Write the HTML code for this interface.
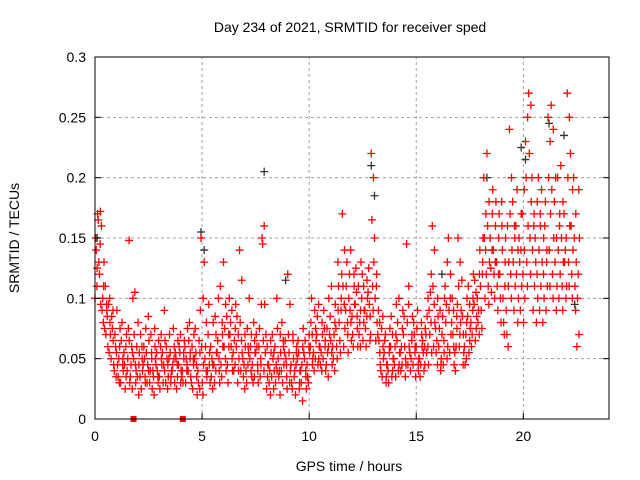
<!DOCTYPE html>
<html><head><meta charset="utf-8"><style>
body{margin:0;background:#fff;}
svg{display:block;font-family:"Liberation Sans",sans-serif;}
</style></head><body>
<svg id="chart" width="640" height="480">
<rect width="640" height="480" fill="#fff"/>
<text x="350" y="32" font-size="14" text-anchor="middle">Day 234 of 2021, SRMTID for receiver sped</text>
<g id="grid"></g><g id="marks"></g><g id="axes"></g>
<text x="349" y="471" font-size="14" text-anchor="middle">GPS time / hours</text>
<text transform="translate(19,238) rotate(-90)" font-size="14" text-anchor="middle">SRMTID / TECUs</text>
</svg>
<script>
const xTicks=[0,5,10,15,20];
const yTicks=[0,0.05,0.1,0.15,0.2,0.25,0.3];
const yTickLabels=["0","0.05","0.1","0.15","0.2","0.25","0.3"];
const times=[0,0.15,0.3,0.45,0.6,0.75,0.9,1.05,1.2,1.35,1.5,1.65,1.8,1.95,2.1,2.25,2.4,2.55,2.7,2.85,3.0,3.15,3.3,3.45,3.6,3.75,3.9,4.05,4.2,4.35,4.5,4.65,4.8,4.95,5.1,5.25,5.4,5.55,5.7,5.85,6.0,6.15,6.3,6.45,6.6,6.75,6.9,7.05,7.2,7.35,7.5,7.65,7.8,7.95,8.1,8.25,8.4,8.55,8.7,8.85,9.0,9.15,9.3,9.45,9.6,9.75,9.9,10.05,10.2,10.35,10.5,10.65,10.8,10.95,11.1,11.25,11.4,11.55,11.7,11.85,12.0,12.15,12.3,12.45,12.6,12.75,12.9,13.05,13.2,13.35,13.5,13.65,13.8,13.95,14.1,14.25,14.4,14.55,14.7,14.85,15.0,15.15,15.3,15.45,15.6,15.75,15.9,16.05,16.2,16.35,16.5,16.65,16.8,16.95,17.1,17.25,17.4,17.55,17.7,17.85,18.0,18.15,18.3,18.45,18.6,18.75,18.9,19.05,19.2,19.35,19.5,19.65,19.8,19.95,20.1,20.25,20.4,20.55,20.7,20.85,21.0,21.15,21.3,21.45,21.6,21.75,21.9,22.05,22.2,22.35,22.5];
// values in milli-TECU per time row
const redValues=[
[100,125,150,170,140,110],[165,172,130,95,120,145],[160,110,90,130,100,80],[75,90,110,85,70,95],[60,80,95,70,55,100],[50,65,85,45,75,90],[40,55,70,90,60,35],[45,60,35,75,50,30],[30,50,65,40,80,45],[55,35,45,70,25,60],
[40,65,50,30,75,148],[35,55,45,100,60,25],[50,30,70,40,105,45],[60,45,35,55,80,20],[35,50,70,40,25,60],[45,30,60,75,50,35],[55,40,30,65,45,85],[30,50,40,25,70,55],[40,60,35,50,20,75],[45,30,55,65,40,35],
[35,50,25,45,60,70],[55,40,30,65,45,90],[30,45,60,35,50,25],[50,35,70,40,55,30],[40,60,45,30,75,50],[55,35,50,65,25,45],[45,30,60,40,55,70],[35,50,40,65,30,55],[60,45,30,75,50,40],[40,55,65,35,80,50],
[30,45,60,70,25,50],[50,35,75,20,55,45],[40,55,30,90,65,25],[150,100,60,45,30,20],[130,80,50,35,60,40],[40,55,70,30,95,45],[60,45,35,80,50,25],[45,70,30,55,85,40],[55,40,65,30,100,50],[110,70,45,60,35,80],
[130,95,60,40,75,50],[85,60,45,100,30,70],[70,50,80,40,60,90],[55,75,40,95,65,45],[60,40,85,50,30,70],[140,115,80,55,40,65],[50,70,35,60,45,25],[40,60,30,55,75,45],[100,70,50,35,60,40],[45,65,30,55,80,35],
[55,40,70,30,60,45],[60,45,75,95,35,50],[150,160,145,95,65,40],[55,35,70,45,25,60],[45,65,30,55,40,20],[35,55,70,40,50,25],[60,40,30,75,45,100],[50,70,35,55,40,20],[40,60,80,45,30,65],[55,35,65,25,50,45],
[120,95,70,40,55,30],[45,65,30,50,25,70],[35,55,40,60,20,45],[50,30,65,40,55,25],[40,60,30,75,45,15],[55,35,50,25,65,40],[45,70,35,55,30,60],[60,45,80,50,100,70],[55,75,40,65,90,50],[70,50,85,60,45,95],
[60,80,45,70,55,40],[50,65,90,40,75,60],[45,60,75,100,55,35],[70,55,85,45,65,110],[60,80,50,95,70,40],[75,90,60,110,50,130],[80,100,65,120,55,90],[170,140,110,75,60,95],[90,70,110,55,130,80],[100,80,120,65,90,140],
[85,110,70,95,60,120],[95,75,125,60,105,85],[110,90,70,130,80,60],[100,80,120,90,65,110],[90,115,75,100,60,85],[105,85,125,70,95,65],[220,200,165,130,110,90],[150,120,100,80,65,110],[70,55,90,45,65,80],[40,60,75,50,35,85],
[55,35,65,45,70,30],[45,60,40,75,30,55],[60,40,85,50,35,70],[50,70,45,95,60,35],[65,45,80,55,40,100],[55,75,40,90,60,45],[70,50,85,45,60,35],[145,110,80,60,45,95],[55,70,40,85,50,65],[45,60,80,35,70,55],
[60,40,75,50,90,45],[50,70,35,60,45,80],[65,45,55,75,40,60],[70,100,55,45,85,60],[90,120,70,55,105,80],[160,140,110,80,60,95],[75,100,55,85,65,45],[60,45,75,50,90,40],[70,55,85,100,45,65],[110,130,80,60,95,50],
[150,120,90,70,55,100],[80,60,100,45,70,90],[55,75,40,95,60,85],[150,130,110,80,60,70],[90,70,115,55,85,45],[60,80,45,100,70,50],[85,65,110,75,55,95],[80,100,60,120,70,90],[95,75,115,85,65,105],[100,120,80,140,90,70],
[110,130,90,150,75,120],[200,170,150,120,100,140],[220,180,160,130,110,95],[150,170,125,190,105,140],[140,160,120,180,100,130],[130,150,110,170,90,120],[120,160,100,140,80,180],[100,130,80,150,70,110],[90,110,70,130,160,60],[240,200,170,140,120,100],
[180,150,130,110,90,160],[160,140,120,100,190,80],[150,170,130,110,90,140],[170,140,120,100,80,190],[230,250,200,160,130,110],[270,260,220,180,150,120],[200,170,140,110,90,160],[150,180,130,100,80,120],[200,160,140,110,90,170],[190,150,130,100,80,120],
[160,140,180,110,90,130],[250,230,200,170,140,110],[260,240,190,150,120,100],[180,150,130,110,200,90],[200,170,140,120,100,160],[210,180,150,130,110,90],[170,150,130,110,140,100],[270,250,200,160,130,110],[220,190,160,140,120,100],[200,170,150,130,110,90],
[60,70,100,150,120,190]];
const blackTimes=[0.1,4.95,5.1,7.9,8.9,12.9,13.05,19.9,20.1,21.2,21.9,22.4,18.3,16.2];
const blackValues=[150,155,140,205,115,210,185,225,215,245,235,95,200,120];
const offTimes=[1.8,4.1];

const X0=95,X1=609,Y0=419,Y1=57,XMAX=24,YMAX=0.3;
const sx=t=>X0+(X1-X0)*t/XMAX, sy=v=>Y0-(Y0-Y1)*v/YMAX;
const NS="http://www.w3.org/2000/svg";
function mk(tag,attrs,parent){const e=document.createElementNS(NS,tag);for(const k in attrs)e.setAttribute(k,attrs[k]);parent.appendChild(e);return e;}
const grid=document.getElementById('grid'),marks=document.getElementById('marks'),axes=document.getElementById('axes');
xTicks.forEach(t=>{
  if(t>0){const l=mk('line',{x1:sx(t),x2:sx(t),y1:Y0,y2:Y1,stroke:'#a0a0a0','stroke-dasharray':'3,3'},grid);
  
  }
  const tx=mk('text',{x:sx(t),y:Y0+22,'font-size':14,'text-anchor':'middle'},axes);tx.textContent=String(t);
  
  
  mk('line',{x1:sx(t),x2:sx(t),y1:Y0,y2:Y0-6,stroke:'#000'},axes);
});
yTicks.forEach((v,i)=>{
  if(v>0&&v<YMAX){const l=mk('line',{x1:X0,x2:X1,y1:sy(v),y2:sy(v),stroke:'#a0a0a0','stroke-dasharray':'3,3'},grid);
  
  }
  const tx=mk('text',{x:X0-9,y:sy(v)+5,'font-size':14,'text-anchor':'end'},axes);tx.textContent=yTickLabels[i];
  
  
  mk('line',{x1:X0,x2:X0+6,y1:sy(v),y2:sy(v),stroke:'#000'},axes);
  mk('line',{x1:X1,x2:X1-6,y1:sy(v),y2:sy(v),stroke:'#000'},axes);
});
const frame=mk('rect',{x:X0,y:Y1,width:X1-X0,height:Y0-Y1,fill:'none',stroke:'#000'},axes);


function cross(t,v,color){
  const x=sx(t),y=sy(v);
  const p=mk('path',{d:`M${x-4},${y}h8M${x},${y-4}v8`,stroke:color,'stroke-width':1.3,fill:'none'},marks);
  
  
}
blackTimes.forEach((t,i)=>cross(t,blackValues[i]/1000,'#333'));
const jit=[0,0.1,0.03,0.12,0.06,0.09];
times.forEach((t,i)=>redValues[i].forEach((v,j)=>{cross(t+jit[j],v/1000,'#f00');}));
offTimes.forEach(t=>{
  const r=mk('rect',{x:sx(t)-3,y:Y0-3,width:6,height:6,fill:'#f00'},marks);
  
  
});
</script>
</body></html>
